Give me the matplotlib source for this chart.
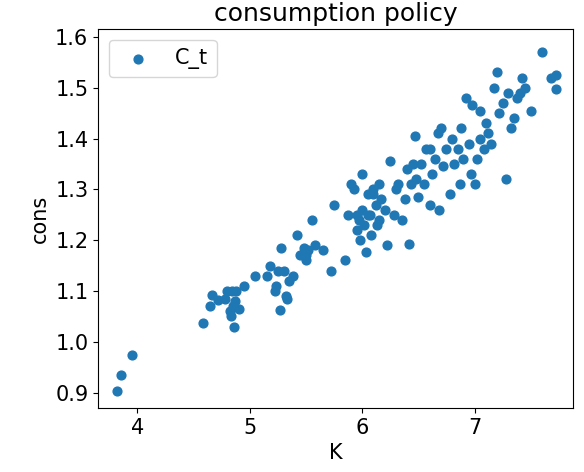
import matplotlib
matplotlib.use('Agg')
import matplotlib.pyplot as plt

# capital K and consumption C_t
K = [3.82, 3.85, 3.95,
     4.58, 4.65, 4.66, 4.72, 4.78, 4.80, 4.82, 4.83, 4.84, 4.85, 4.86, 4.87, 4.90, 4.95,
     5.05, 5.15, 5.18, 5.22, 5.23, 5.25, 5.27, 5.28, 5.30, 5.32, 5.33, 5.35, 5.38, 5.42,
     5.45, 5.48, 5.50, 5.52, 5.55, 5.58, 5.65, 5.72, 5.75, 5.85, 5.87, 5.90, 5.93, 5.95,
     5.97, 5.98, 6.00, 6.00, 6.02, 6.03, 6.05, 6.07, 6.08, 6.10, 6.12, 6.15, 6.15, 6.17,
     6.20, 6.22, 6.25, 6.28, 6.32, 6.35, 6.38, 6.40, 6.42, 6.43, 6.45, 6.47, 6.48, 6.50,
     6.52, 6.55, 6.57, 6.60, 6.62, 6.65, 6.67, 6.68, 6.70, 6.72, 6.75, 6.78, 6.80, 6.82,
     6.85, 6.87, 6.88, 6.90, 6.92, 6.95, 6.97, 6.98, 7.00, 7.02, 7.05, 7.08, 7.10, 7.12,
     7.15, 7.17, 7.20, 7.22, 7.25, 7.28, 7.30, 7.32, 7.35, 7.38, 7.40, 7.42, 7.45, 7.50,
     7.60, 7.68, 7.72, 7.72, 6.10, 6.05, 6.13, 5.95, 6.30, 6.60, 7.05, 5.50, 4.88]
C = [0.903, 0.935, 0.973,
     1.037, 1.070, 1.092, 1.082, 1.085, 1.100, 1.060, 1.050, 1.100, 1.070, 1.030, 1.080, 1.065, 1.110,
     1.130, 1.130, 1.150, 1.100, 1.110, 1.140, 1.062, 1.185, 1.140, 1.090, 1.085, 1.120, 1.130, 1.210,
     1.170, 1.185, 1.160, 1.180, 1.240, 1.190, 1.180, 1.140, 1.270, 1.160, 1.250, 1.310, 1.300, 1.220,
     1.240, 1.200, 1.330, 1.260, 1.230, 1.177, 1.290, 1.250, 1.210, 1.300, 1.270, 1.310, 1.240, 1.280,
     1.260, 1.190, 1.355, 1.250, 1.310, 1.240, 1.280, 1.340, 1.192, 1.310, 1.350, 1.405, 1.320, 1.285,
     1.350, 1.310, 1.380, 1.270, 1.330, 1.360, 1.410, 1.260, 1.420, 1.345, 1.380, 1.290, 1.400, 1.350,
     1.380, 1.310, 1.420, 1.360, 1.480, 1.390, 1.330, 1.465, 1.310, 1.360, 1.455, 1.380, 1.430, 1.410,
     1.390, 1.500, 1.530, 1.450, 1.470, 1.320, 1.490, 1.420, 1.440, 1.480, 1.490, 1.520, 1.500, 1.455,
     1.570, 1.520, 1.525, 1.497, 1.290, 1.250, 1.230, 1.250, 1.300, 1.380, 1.400, 1.170, 1.100]

plt.rcParams['font.size'] = 15
fig, ax = plt.subplots(figsize=(5.84, 4.72), dpi=100)
fig.subplots_adjust(left=0.168, right=0.982, top=0.938, bottom=0.136)
ax.scatter(K, C, s=40, color='#1f77b4', label='C_t')
ax.set_title('consumption policy', fontsize=18)
ax.set_xlabel('K')
ax.set_ylabel('cons')
ax.set_xlim(3.65, 7.88)
ax.set_ylim(0.87, 1.615)
ax.set_xticks([4, 5, 6, 7])
ax.legend(loc='upper left')
fig.savefig('out.png')
